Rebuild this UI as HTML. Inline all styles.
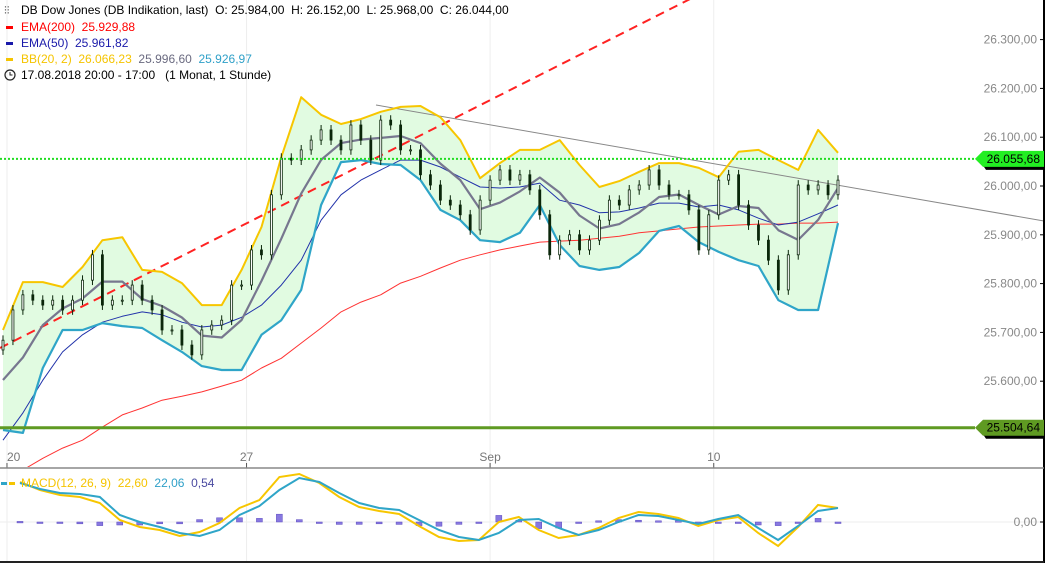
<!DOCTYPE html>
<html><head><meta charset="utf-8"><style>
body{margin:0;background:#fff;width:1047px;height:565px;overflow:hidden;font-family:"Liberation Sans",sans-serif}
svg text{font-family:"Liberation Sans",sans-serif;white-space:pre}
</style></head><body>
<svg id="c" width="1047" height="565" viewBox="0 0 1047 565">
<defs><clipPath id="mainclip"><rect x="0" y="0" width="1044" height="467"/></clipPath></defs>
<g id="grid"></g>
<g id="main" clip-path="url(#mainclip)"></g>
<g id="macd"></g>
<g id="axis"></g>
<g font-size="12">
<text x="4" y="14" font-size="11" fill="#333">⫶⫶</text>
<text x="21" y="14" fill="#000">DB Dow Jones (DB Indikation, last)  O: 25.984,00  H: 26.152,00  L: 25.968,00  C: 26.044,00</text>
<rect x="6" y="26" width="7" height="3" fill="#f00"/>
<text x="21" y="31" fill="#f00">EMA(200)  25.929,88</text>
<rect x="6" y="42" width="7" height="3" fill="#1a1aaa"/>
<text x="21" y="47" fill="#1a1aaa">EMA(50)  25.961,82</text>
<rect x="6" y="58" width="7" height="3" fill="#f5c400"/>
<text x="21" y="63"><tspan fill="#f5c400">BB(20, 2)  26.066,23  </tspan><tspan fill="#6a6a80">25.996,60  </tspan><tspan fill="#2fa0c8">25.926,97</tspan></text>
<circle cx="10" cy="75" r="5" fill="none" stroke="#222" stroke-width="1.2"/>
<path d="M10 72v3h2.5" stroke="#222" fill="none"/>
<text x="21" y="79" fill="#000">17.08.2018 20:00 - 17:00   (1 Monat, 1 Stunde)</text>
</g>
</svg>
<script>
const closes=[25684,25746,25777,25766,25756,25766,25746,25766,25807,25859,25756,25766,25766,25797,25766,25746,25705,25705,25674,25654,25705,25715,25725,25797,25797,25869,25859,25982,26057,26053,26074,26094,26115,26094,26074,26125,26094,26053,26135,26125,26074,26074,26023,26002,25971,25961,25941,25910,25971,26012,26033,26012,26023,25992,25941,25859,25889,25900,25869,25889,25930,25971,25961,25992,26002,26033,26002,25982,25982,25951,25869,25941,26012,26023,25961,25920,25889,25848,25787,25859,26002,25992,26002,25982,26012];
const bbUpper=[25705,25803,25803,25793,25834,25889,25895,25828,25824,25801,25756,25756,25828,25916,26059,26182,26146,26127,26137,26152,26162,26164,26141,26094,26016,26047,26074,26074,26094,26043,25998,26010,26029,26047,26047,26037,26018,26070,26074,26053,26033,26115,26068];
const bbLower=[25500,25494,25627,25705,25705,25719,25713,25709,25684,25660,25631,25623,25623,25695,25725,25787,25961,26049,26053,26045,26043,26012,25951,25930,25889,25885,25904,25961,25879,25836,25828,25834,25863,25908,25918,25885,25865,25848,25836,25766,25746,25746,25924];
const ema50=[25479,25535,25602,25660,25695,25721,25733,25742,25736,25721,25711,25715,25731,25756,25797,25848,25930,25982,26012,26033,26053,26053,26039,26018,25998,25996,25998,26006,25971,25961,25945,25947,25955,25965,25965,25957,25961,25951,25934,25920,25926,25943,25961];
const ema200=[25377,25418,25442,25463,25479,25506,25531,25545,25561,25569,25578,25590,25602,25627,25647,25678,25709,25742,25762,25777,25801,25815,25832,25848,25859,25869,25877,25885,25887,25889,25893,25897,25904,25908,25912,25916,25918,25920,25922,25922,25924,25924,25926];
const macdLine=[64.5,51.6,43.5,40.3,30.6,3.2,-8.1,-12.9,-22.6,-16.1,-1.6,22.6,35.5,72.6,77.4,62.9,40.3,24.2,17.7,12.9,-6.5,-24.2,-30.6,-29,0,8.1,-12.9,-25.8,-21,-9.7,6.5,16.1,12.9,6.5,-6.5,3.2,8.1,-17.7,-38.7,-8.1,27.4,22.6];
const signalLine=[62.9,53.2,46.8,45.2,40.3,11.3,0,-8.1,-17.7,-22.6,-12.9,11.3,25.8,51.6,71,64.5,46.8,30.6,22.6,19.4,3.2,-12.9,-24.2,-29,-17.7,3.2,4.8,-9.7,-21,-12.9,0,11.3,9.7,3.2,-3.2,4.8,11.3,-9.7,-29,-6.5,17.7,22.6];
const priceTicks=[26300,26200,26100,26000,25900,25800,25700,25600];
const dateLabels=["20","27","Sep","10"];
const dateIdx=[0.4,24.5,49,71.5];
const lastPrice=26055.68, supportLevel=25504.64;

const NS="http://www.w3.org/2000/svg";
const yP=v=>186-(v-26000)*0.488;
const xC=i=>3+i*(835/84);
const xI=j=>3+j*(835/42);
const xM=j=>20+j*(818/41);
const yM=v=>522-v*0.62;
function mk(tag,attrs,parent){const e=document.createElementNS(NS,tag);for(const k in attrs)e.setAttribute(k,attrs[k]);parent.appendChild(e);return e;}
const main=document.getElementById('main'),grid=document.getElementById('grid'),macd=document.getElementById('macd'),axis=document.getElementById('axis');
const pts=(arr,xf,yf)=>arr.map((v,j)=>xf(j).toFixed(1)+','+yf(v).toFixed(1)).join(' ');

dateIdx.forEach((d,k)=>{const x=xC(d);
 const g=mk('line',{x1:x,x2:x,y1:0,y2:562,stroke:'#eeeeee'},grid);
 
 const t=mk('text',{x:x,y:461,'font-size':12,fill:'#777','text-anchor':k==0?'start':'middle'},grid);
 t.textContent=dateLabels[k];
 mk('line',{x1:x,x2:x,y1:463,y2:468,stroke:'#555'},grid);
});
const fill=mk('polygon',{points:pts(bbUpper,xI,yP)+' '+bbLower.map((v,j)=>[xI(j),yP(v)]).reverse().map(p=>p[0].toFixed(1)+','+p[1].toFixed(1)).join(' '),fill:'#e1fbe1'},main);

const tl=mk('line',{x1:0,y1:348,x2:700,y2:-6,stroke:'#f22',"stroke-width":2,"stroke-dasharray":"9,6"},main);

const gl=mk('line',{x1:376,y1:105,x2:1044,y2:221,stroke:'#888',"stroke-width":1},main);

function line(arr,col,w,name){const p=mk('polyline',{points:pts(arr,xI,yP),fill:'none',stroke:col,'stroke-width':w,'stroke-linejoin':'round'},main);}
line(ema200,'#f33',1,'ema200-line');
line(ema50,'#2233aa',1,'ema50-line');
const bbMid=bbUpper.map((u,j)=>(u+bbLower[j])/2);
line(bbMid,'#77778f',2.2,'bb-middle-line');
line(bbUpper,'#f7c600',2,'bb-upper-line');
line(bbLower,'#2fa5c8',2.2,'bb-lower-line');
closes.forEach((c,i)=>{const o=i?closes[i-1]:c-20;const hi=Math.max(o,c)+10,lo=Math.min(o,c)-10;const x=xC(i);
 const w=mk('line',{x1:x,x2:x,y1:yP(hi),y2:yP(lo),stroke:'#0a260a'},main);
 
 const b=mk('rect',{x:x-1,y:yP(Math.max(o,c)),width:2,height:Math.max(1,Math.abs(yP(o)-yP(c))),fill:c>=o?'#fff':'#0a260a',stroke:'#0a260a','stroke-width':0.8},main);
 
});
const lp=mk('line',{x1:0,x2:975,y1:yP(lastPrice),y2:yP(lastPrice),stroke:'#22dd22','stroke-width':2,'stroke-dasharray':'2,2'},main);

const sl=mk('line',{x1:0,x2:975,y1:yP(supportLevel),y2:yP(supportLevel),stroke:'#5f9a22','stroke-width':3},main);

mk('line',{x1:1044,x2:1044,y1:0,y2:563,stroke:'#000','stroke-width':2},axis);
mk('line',{x1:0,x2:1044,y1:468,y2:468,stroke:'#888','stroke-width':1.5},axis);
mk('line',{x1:0,x2:1044,y1:562,y2:562,stroke:'#222','stroke-width':2},axis);
priceTicks.forEach(v=>{const y=yP(v);mk('line',{x1:1040,x2:1044,y1:y,y2:y,stroke:'#000'},axis);
 const t=mk('text',{x:1037,y:y+4,'text-anchor':'end','font-size':12,fill:'#888'},axis);
 
 t.textContent=v.toLocaleString('de-DE',{minimumFractionDigits:2});});
function tag(v,col,name){const y=yP(v);
 mk('polygon',{points:`${980},${y+2} ${988},${y-6} ${1044},${y-6} ${1044},${y+11} ${986},${y+11}`,fill:'#000'},axis);
 const p=mk('polygon',{points:`${975},${y} ${983},${y-8} ${1044},${y-8} ${1044},${y+8} ${983},${y+8}`,fill:col},axis);
 
 const t=mk('text',{x:1040,y:y+4,'text-anchor':'end','font-size':12,fill:'#000'},axis);
 t.textContent=v.toLocaleString('de-DE',{minimumFractionDigits:2});}
tag(lastPrice,'#22ee22','last-price-tag');
tag(supportLevel,'#5f9a22','support-tag');
mk('line',{x1:0,x2:1044,y1:522,y2:522,stroke:'#eee'},macd);
macdLine.forEach((m,j)=>{const h=m-signalLine[j];const x=xM(j);
 const b=mk('rect',{x:x-3,y:Math.min(yM(0),yM(h*0.6)),width:6,height:Math.max(1.5,Math.abs(yM(h*0.6)-yM(0))),fill:'#8878e0',stroke:'#5c4cc0','stroke-width':0.5},macd);
 });
const ml=mk('polyline',{points:pts(macdLine,xM,yM),fill:'none',stroke:'#f7c600','stroke-width':2},macd);

const sg=mk('polyline',{points:pts(signalLine,xM,yM),fill:'none',stroke:'#2fa5c8','stroke-width':2},macd);

const zt=mk('text',{x:1037,y:526,'text-anchor':'end','font-size':12,fill:'#888'},macd);
zt.textContent='0,00';
mk('line',{x1:1040,x2:1044,y1:522,y2:522,stroke:'#000'},macd);
mk('rect',{x:1,y:482,width:6,height:3,fill:'#2fa5c8'},macd);
mk('rect',{x:9,y:482,width:6,height:3,fill:'#f5c400'},macd);
const lt=mk('text',{x:21,y:487,'font-size':12},macd);

lt.innerHTML='<tspan fill="#f5c400">MACD(12, 26, 9)  22,60  </tspan><tspan fill="#2fa0c8">22,06  </tspan><tspan fill="#4a4aa0">0,54</tspan>';
</script>
</body></html>
